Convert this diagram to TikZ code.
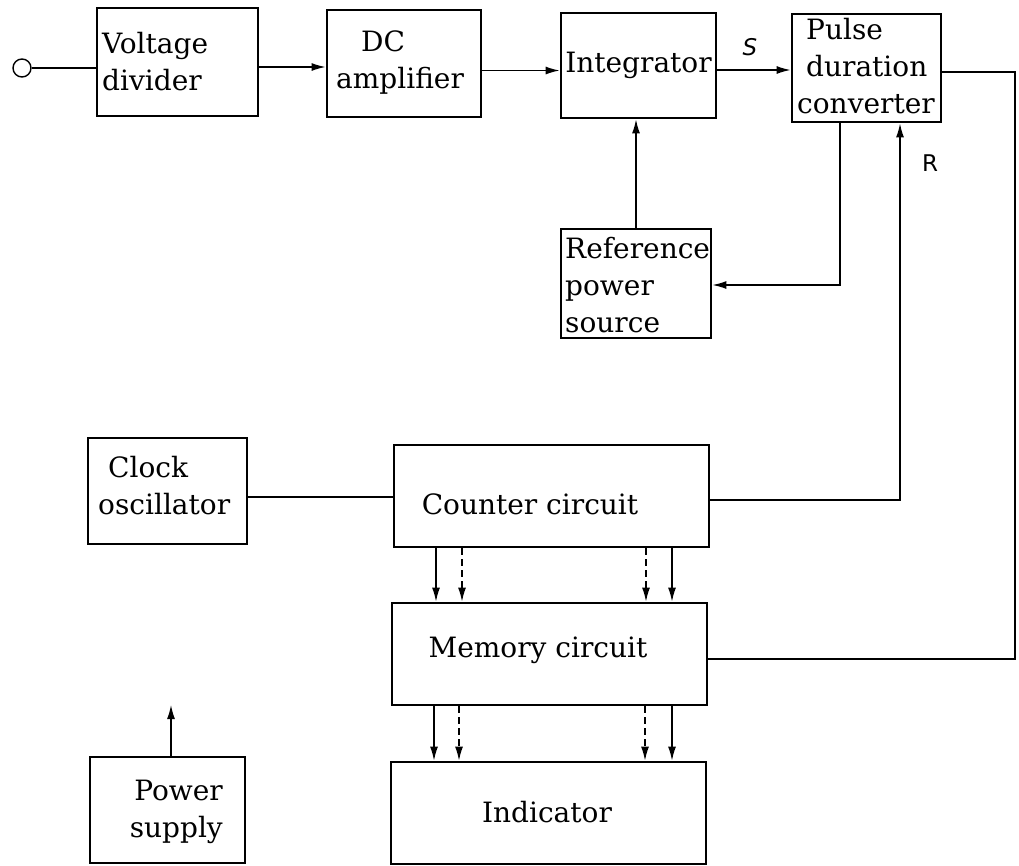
\documentclass[tikz,border=0pt]{standalone}
\usepackage{fontspec}
\setmainfont{DejaVu Serif}
\newfontfamily\labfont{DejaVu Sans}
\usetikzlibrary{arrows.meta}
\tikzset{
  box/.style={draw, line width=2.8pt, rectangle, inner sep=0pt},
  txt/.style={inner sep=0pt, font=\fontsize{28}{37}\selectfont},
  wire/.style={line width=1.4pt},
  arr/.style={wire, -{Latex[length=14pt,width=8pt]}},
  darr/.style={arr, dash pattern=on 7pt off 4pt},
  sig/.style={inner sep=0pt, font=\labfont\fontsize{23}{26}\selectfont}
}
\begin{document}
\begin{tikzpicture}[x=1pt,y=-1pt]
\useasboundingbox (0,0) rectangle (1019,865);
% boxes
\node[box, minimum width=161pt, minimum height=108pt] (vd) at (177.5,62) {};
\node[box, minimum width=154pt, minimum height=107pt] (dc) at (404,63.5) {};
\node[box, minimum width=155pt, minimum height=105pt] (integ) at (638.5,65.5) {};
\node[box, minimum width=149pt, minimum height=108pt] (pdc) at (866.5,68) {};
\node[box, minimum width=150pt, minimum height=109pt] (ref) at (636,283.5) {};
\node[box, minimum width=159pt, minimum height=106pt] (clock) at (167.5,491) {};
\node[box, minimum width=315pt, minimum height=102pt] (counter) at (551.5,496) {};
\node[box, minimum width=315pt, minimum height=102pt] (memory) at (549.5,654) {};
\node[box, minimum width=315pt, minimum height=102pt] (indicator) at (548.5,813) {};
\node[box, minimum width=155pt, minimum height=106pt] (power) at (167.5,810) {};
% texts
\node[txt, anchor=west, align=left] (vdT) at (102,62) {Voltage\\divider};
\node[txt, anchor=west, align=left] (dcT) at (336,63) {\hspace{25pt}DC\\amplifier};
\node[txt] (integT) at (638.5,65) {Integrator};
\node[txt, anchor=west, align=left] (pdcT) at (797,66) {\hspace{9pt}Pulse\\\hspace{9pt}duration\\converter};
\node[txt, anchor=west, align=left] (refT) at (565,285) {Reference\\power\\source};
\node[txt, anchor=west, align=left] (clockT) at (98,486) {\hspace{10pt}Clock\\oscillator};
\node[txt] (counterT) at (530,504) {Counter circuit};
\node[txt] (memoryT) at (538,650) {Memory circuit};
\node[txt] (indicatorT) at (547,812) {Indicator};
\node[txt, anchor=east, align=right] (powerT) at (223,812) {Power\\supply};
\node[sig] (S) at (750,47) {\itshape S};
\node[sig] (R) at (930,163) {R};
% input terminal
\node[circle, draw, line width=1.4pt, minimum size=18pt, inner sep=0pt] (in) at (22,68) {};
% connectors
\draw[wire] (in) -- (in -| vd.west);
\draw[arr] ([yshift=-5pt]vd.east) -- ([yshift=-3.5pt]dc.west);
\draw[arr] ([yshift=-7pt]dc.east) -- ([yshift=-5pt]integ.west);
\draw[arr] ([yshift=-4.5pt]integ.east) -- ([yshift=-2pt]pdc.west);
\coordinate (cr) at (1015,659);
\draw[wire] ([yshift=-4pt]pdc.east) -| (cr) -- (cr -| memory.east);
\coordinate (pb) at (840,285);
\draw[arr] (pdc.south -| pb) -- (pb) -- (pb -| ref.east);
\draw[arr] (ref.north) -- (ref.north |- integ.south);
\coordinate (rc) at (900,500);
\draw[arr] (rc -| counter.east) -- (rc) -- (rc |- pdc.south);
\draw[wire] ([yshift=-6pt]clock.east) -- ([yshift=-6pt]clock.east -| counter.west);
% buses
\draw[arr] (counter.south -| 436,0) -- (memory.north -| 436,0);
\draw[darr] (counter.south -| 462,0) -- (memory.north -| 462,0);
\draw[darr] (counter.south -| 646,0) -- (memory.north -| 646,0);
\draw[arr] (counter.south -| 672,0) -- (memory.north -| 672,0);
\draw[arr] (memory.south -| 434,0) -- (indicator.north -| 434,0);
\draw[darr] (memory.south -| 459,0) -- (indicator.north -| 459,0);
\draw[darr] (memory.south -| 645,0) -- (indicator.north -| 645,0);
\draw[arr] (memory.south -| 672,0) -- (indicator.north -| 672,0);
% power supply output
\coordinate (pw) at (171,705);
\draw[arr] (power.north -| pw) -- (pw);
\end{tikzpicture}
\end{document}
